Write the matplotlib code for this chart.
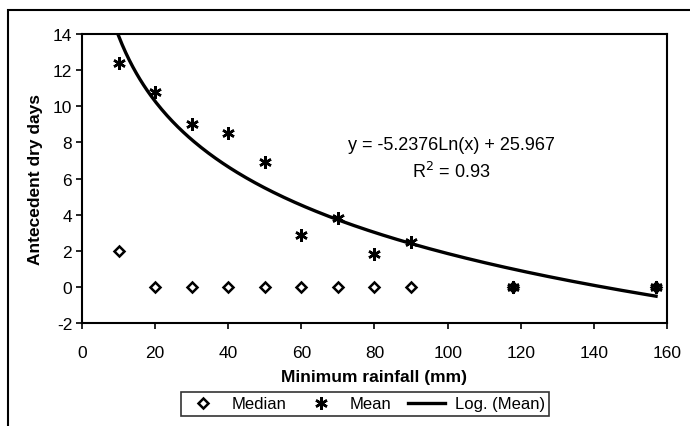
import matplotlib.pyplot as plt
import numpy as np
from matplotlib.patches import Rectangle

plt.rcParams['font.family'] = ['Liberation Sans', 'DejaVu Sans']
plt.rcParams['axes.unicode_minus'] = False

# minimum rainfall (mm)
rain_median = [10, 20, 30, 40, 50, 60, 70, 80, 90, 118, 157]
median_days = [2, 0, 0, 0, 0, 0, 0, 0, 0, 0, 0]
rain_mean = [10, 20, 30, 40, 50, 60, 70, 80, 90, 118, 157]
mean_days = [12.4, 10.8, 9.0, 8.5, 6.9, 2.9, 3.8, 1.8, 2.5, 0.0, 0.0]

# logarithmic trend line reported on the chart
coef_a = -5.2376
coef_b = 25.967

fig = plt.figure(figsize=(6.9, 4.27), dpi=100)
ax = fig.add_axes([0.1188, 0.2412, 0.8479, 0.6768])

xs = np.linspace(min(rain_mean), max(rain_mean), 300)
ax.plot(xs, coef_a * np.log(xs) + coef_b, color='black', lw=2.4,
        label='Log. (Mean)', zorder=2)
ax.plot(rain_median, median_days, linestyle='none', marker='D', ms=5.5,
        mfc='white', mec='black', mew=1.8, label='Median', zorder=3)
ax.plot(rain_mean, mean_days, linestyle='none', marker=(6, 2, 0), ms=9,
        color='black', mew=1.8, label='Mean', zorder=4)

ax.text(101, 7.9, 'y = -5.2376Ln(x) + 25.967', ha='center', va='center', fontsize=13)
ax.text(101, 6.4, 'R$^2$ = 0.93', ha='center', va='center', fontsize=13)

ax.set_xlim(0, 160)
ax.set_ylim(-2, 14)
ax.set_xticks(range(0, 161, 20))
ax.set_yticks(range(-2, 15, 2))
ax.tick_params(axis='x', direction='out', length=4, width=1.2, pad=12, labelsize=12.5)
ax.tick_params(axis='y', direction='out', length=4, width=1.2, pad=3, labelsize=12.5)
for s in ax.spines.values():
    s.set_linewidth(1.5)

ax.set_xlabel('Minimum rainfall (mm)', fontsize=12.5, fontweight='bold', labelpad=6)
ax.set_ylabel('Antecedent dry days', fontsize=12.5, fontweight='bold', labelpad=7)

handles, labels = ax.get_legend_handles_labels()
order = [1, 2, 0]
leg = fig.legend([handles[i] for i in order], [labels[i] for i in order],
                 loc='center', bbox_to_anchor=(365 / 690, 1 - 405 / 427), ncol=3,
                 frameon=True, fancybox=False, fontsize=12, handlelength=2.2,
                 handletextpad=0.6, columnspacing=1.0, borderpad=0.25)
leg.get_frame().set_edgecolor('black')
leg.get_frame().set_linewidth(1.2)

# outer chart frame
fig.patches.append(Rectangle((8 / 690, -0.1), 1.2, 1 - 11 / 427 + 0.1,
                             transform=fig.transFigure, fill=False,
                             edgecolor='black', lw=1.5))

fig.savefig('out.png', dpi=100)
